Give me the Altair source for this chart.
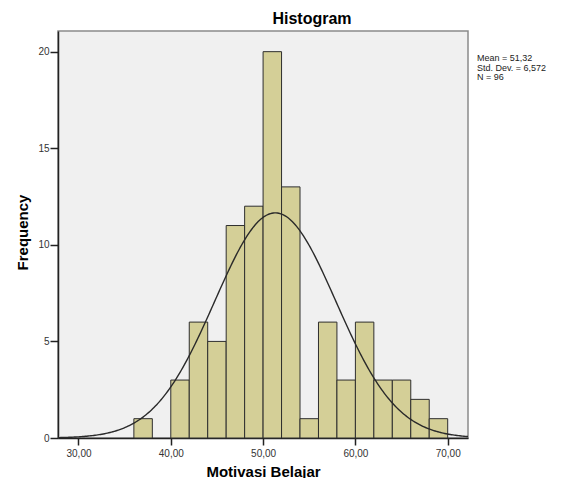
import altair as alt
import numpy as np
import pandas as pd

# Histogram data (bin edges width 2)
bin_starts = [36, 40, 42, 44, 46, 48, 50, 52, 54, 56, 58, 60, 62, 64, 66, 68]
counts = [1, 3, 6, 5, 11, 12, 20, 13, 1, 6, 3, 6, 3, 3, 2, 1]
bin_width = 2

# Summary statistics shown on the chart
mean_val = 51.32
std_val = 6.572
n_val = 96
stats_lines = ["Mean = 51,32", "Std. Dev. = 6,572", "N = 96"]
chart_title = ["Histogram"]

x_ticks = [30, 40, 50, 60, 70]
y_ticks = [0, 5, 10, 15, 20]
x_domain = [27.78, 72.2]
y_domain = [0, 21.07]

bars_df = pd.DataFrame({
    "start": bin_starts,
    "end": [b + bin_width for b in bin_starts],
    "count": counts,
})

# Fitted normal curve (from the reported mean / std. dev.)
xs = np.linspace(x_domain[0], x_domain[1], 300)
dens = n_val * bin_width * np.exp(-0.5 * ((xs - mean_val) / std_val) ** 2) / (std_val * np.sqrt(2 * np.pi))
curve_df = pd.DataFrame({"start": xs, "count": dens})

stats_df = pd.DataFrame({"txt": ["\n".join(stats_lines)]})
title_df = pd.DataFrame({"txt": chart_title})

FONT = "Liberation Sans"

x_scale = alt.Scale(domain=x_domain, nice=False, zero=False)
y_scale = alt.Scale(domain=y_domain, nice=False, zero=False)

x_axis = alt.Axis(
    values=x_ticks,
    labelExpr="replace(format(datum.value, '.2f'), '.', ',')",
    grid=False, domainColor="#222", domainWidth=1.5,
    tickColor="#222", tickWidth=1.5, tickSize=7,
    labelFont=FONT, labelFontSize=10, labelColor="#333", labelPadding=3,
    titleFont=FONT, titleFontSize=15, titleFontWeight="bold", titleColor="#000",
    titleY=38, titleBaseline="alphabetic",
)
y_axis = alt.Axis(
    values=y_ticks, format="d",
    grid=False, domainColor="#222", domainWidth=1.5,
    tickColor="#222", tickWidth=1.5, tickSize=8,
    labelFont=FONT, labelFontSize=10, labelColor="#333", labelPadding=1,
    titleFont=FONT, titleFontSize=15, titleFontWeight="bold", titleColor="#000",
    titleX=-36, titleY=201, titleAngle=270, titleBaseline="middle", titleAlign="center",
)

bars = alt.Chart(bars_df).mark_rect(
    fill="#d4cf97", stroke="#2e2e2e", strokeWidth=1
).encode(
    x=alt.X("start:Q", scale=x_scale, axis=x_axis, title="Motivasi Belajar"),
    x2="end:Q",
    y=alt.Y("count:Q", scale=y_scale, axis=y_axis, title="Frequency"),
    y2=alt.datum(0),
)

curve = alt.Chart(curve_df).mark_line(color="#2a2a2a", strokeWidth=1.4, clip=True).encode(
    x=alt.X("start:Q", scale=x_scale, axis=x_axis, title="Motivasi Belajar"),
    y=alt.Y("count:Q", scale=y_scale, axis=y_axis, title="Frequency"),
)

stats = alt.Chart(stats_df).mark_text(
    align="left", baseline="alphabetic", font=FONT, fontSize=9,
    lineHeight=9.5, lineBreak="\n", color="#222"
).encode(
    text="txt:N",
    x=alt.value(419),
    y=alt.value(30),
)

title = alt.Chart(title_df).mark_text(
    align="center", baseline="alphabetic", font=FONT, fontSize=16,
    fontWeight="bold", color="#000"
).encode(
    text="txt:N",
    x=alt.value(254),
    y=alt.value(-7),
)

chart = alt.layer(bars, curve, stats, title).properties(
    width=410,
    height=407,
    padding={"left": 50, "top": 23, "right": 86, "bottom": 40},
    autosize=alt.AutoSizeParams(type="none"),
    background="white",
).configure_view(
    stroke="#8a8a8a", strokeWidth=1.5, fill="#f0f0f0"
)

chart.save("out.html", embed_options={"renderer": "svg", "actions": False})
